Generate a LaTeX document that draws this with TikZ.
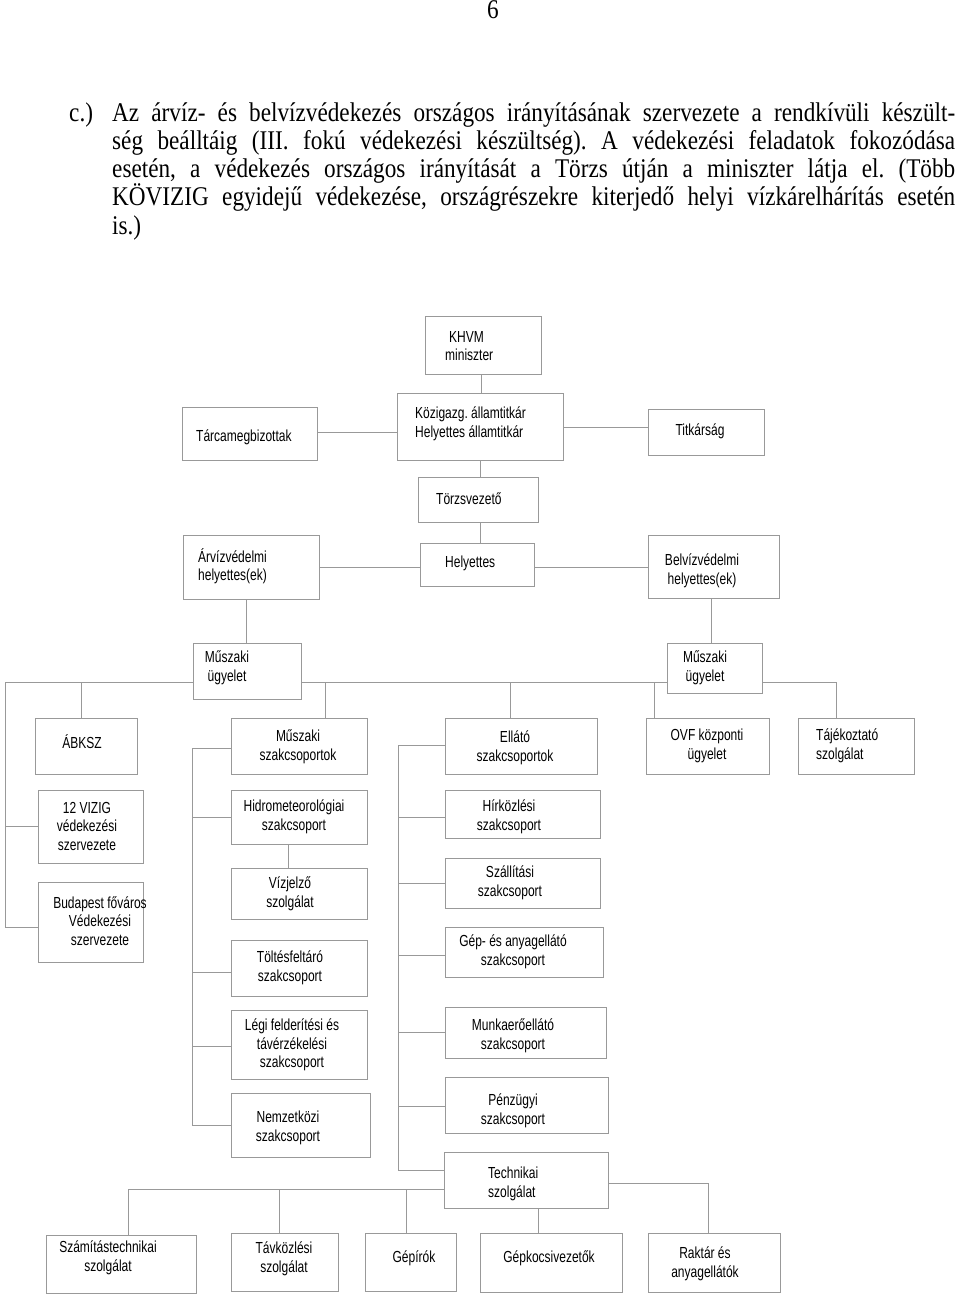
\documentclass[tikz,border=0pt]{standalone}
\usepackage{fontspec}
\setmainfont{Liberation Serif}
\newfontfamily\chartfont[FakeStretch=0.75]{Liberation Sans}
\newfontfamily\parfont[FakeStretch=0.86]{Liberation Serif}
\frenchspacing
\newcommand\bx[5]{\node[box, minimum width={(#4)-(#2)}, minimum height={(#5)-(#3)}] (#1) at ({((#2)+(#4))/2},{((#3)+(#5))/2}) {};}
\begin{document}
\begin{tikzpicture}[x=1pt,y=-1pt,
  box/.style={draw=black!40, line width=1pt, inner sep=0pt},
  txt/.style={font=\chartfont\fontsize{16}{18.5}\selectfont, text=black, inner sep=0pt},
  ln/.style={draw=black!40, line width=1pt},
  partxt/.style={font=\parfont\fontsize{27}{28}\selectfont, inner sep=0pt, anchor=base west}]
\useasboundingbox (0,0) rectangle (960,1297);
% page number and paragraph
\node[partxt, anchor=base] (pnum) at (493,19) {6};
\node[partxt] (cc) at (69,122) {c.)};
\node[partxt] (l1) at (112,122) {\makebox[843pt][s]{Az árvíz- és belvízvédekezés országos irányításának szervezete a rendkívüli készült-}};
\node[partxt] (l2) at (112,150) {\makebox[843pt][s]{ség beálltáig (III. fokú védekezési készültség). A védekezési feladatok fokozódása}};
\node[partxt] (l3) at (112,178) {\makebox[843pt][s]{esetén, a védekezés országos irányítását a Törzs útján a miniszter látja el. (Több}};
\node[partxt] (l4) at (112,206) {\makebox[843pt][s]{KÖVIZIG egyidejű védekezése, országrészekre kiterjedő helyi vízkárelhárítás esetén}};
\node[partxt] (l5) at (112,234) {is.)};
% boxes
\bx{khvm}{425}{316}{541}{374}
\bx{tarca}{182}{407}{317}{460}
\bx{koz}{397}{393}{563}{460}
\bx{titk}{648}{409}{764}{455}
\bx{torzs}{418}{477}{538}{522}
\bx{arviz}{183}{535}{319}{599}
\bx{hely}{420}{543}{534}{586}
\bx{belviz}{648}{535}{779}{598}
\bx{muszL}{193}{643}{301}{699}
\bx{muszR}{667}{643}{762}{693}
\bx{abksz}{35}{718}{137}{774}
\bx{muszcs}{231}{718}{367}{774}
\bx{ellato}{445}{718}{597}{774}
\bx{ovf}{646}{718}{769}{774}
\bx{tajek}{798}{718}{914}{774}
\bx{vizig}{38}{790}{143}{863}
\bx{bp}{38}{882}{143}{962}
\bx{hidro}{231}{790}{367}{844}
\bx{vizjel}{231}{868}{367}{919}
\bx{toltes}{231}{940}{367}{996}
\bx{legi}{231}{1010}{367}{1079}
\bx{nemz}{231}{1093}{370}{1157}
\bx{hirk}{445}{790}{600}{838}
\bx{szall}{445}{858}{600}{908}
\bx{gep}{445}{927}{603}{977}
\bx{munka}{445}{1007}{606}{1058}
\bx{penz}{445}{1077}{608}{1133}
\bx{tech}{444}{1152}{608}{1208}
\bx{szamit}{46}{1235}{196}{1293}
\bx{tavk}{231}{1233}{338}{1291}
\bx{gepir}{365}{1233}{456}{1291}
\bx{gepk}{480}{1233}{622}{1292}
\bx{raktar}{648}{1233}{780}{1292}
% texts
\node[txt, align=left, anchor=west] (khvm-t) at (445,346) {\hspace*{4pt}KHVM\\miniszter};
\node[txt, anchor=west] (tarca-t) at (196,437) {Tárcamegbizottak};
\node[txt, align=left, anchor=west] (koz-t) at (415,424) {Közigazg. államtitkár\\Helyettes államtitkár};
\node[txt] (titk-t) at (700,431) {Titkárság};
\node[txt, anchor=west] (torzs-t) at (436,499) {Törzsvezető};
\node[txt, align=left, anchor=west] (arviz-t) at (198,566) {Árvízvédelmi\\helyettes(ek)};
\node[txt, anchor=west] (hely-t) at (445,563) {Helyettes};
\node[txt, align=center] (belviz-t) at (702,571) {Belvízvédelmi\\helyettes(ek)};
\node[txt, align=center] (muszL-t) at (227,668) {Műszaki\\ügyelet};
\node[txt, align=center] (muszR-t) at (705,668) {Műszaki\\ügyelet};
\node[txt] (abksz-t) at (82,742) {ÁBKSZ};
\node[txt, align=center] (muszcs-t) at (298,747) {Műszaki\\szakcsoportok};
\node[txt, align=center] (ellato-t) at (515,748) {Ellátó\\szakcsoportok};
\node[txt, align=center] (ovf-t) at (707,746) {OVF központi\\ügyelet};
\node[txt, align=left, anchor=west] (tajek-t) at (816,746) {Tájékoztató\\szolgálat};
\node[txt, align=center] (vizig-t) at (87,826) {12 VIZIG\\védekezési\\szervezete};
\node[txt, align=center] (bp-t) at (100,921) {Budapest főváros\\Védekezési\\szervezete};
\node[txt, align=center] (hidro-t) at (294,817) {Hidrometeorológiai\\szakcsoport};
\node[txt, align=center] (vizjel-t) at (290,894) {Vízjelző\\szolgálat};
\node[txt, align=center] (toltes-t) at (290,968) {Töltésfeltáró\\szakcsoport};
\node[txt, align=center] (legi-t) at (292,1045) {Légi felderítési és\\távérzékelési\\szakcsoport};
\node[txt, align=center] (nemz-t) at (288,1128) {Nemzetközi\\szakcsoport};
\node[txt, align=center] (hirk-t) at (509,817) {Hírközlési\\szakcsoport};
\node[txt, align=center] (szall-t) at (510,883) {Szállítási\\szakcsoport};
\node[txt, align=center] (gep-t) at (513,952) {Gép- és anyagellátó\\szakcsoport};
\node[txt, align=center] (munka-t) at (513,1036) {Munkaerőellátó\\szakcsoport};
\node[txt, align=center] (penz-t) at (513,1111) {Pénzügyi\\szakcsoport};
\node[txt, align=left, anchor=west] (tech-t) at (488,1184) {Technikai\\szolgálat};
\node[txt, align=center] (szamit-t) at (108,1258) {Számítástechnikai\\szolgálat};
\node[txt, align=center] (tavk-t) at (284,1259) {Távközlési\\szolgálat};
\node[txt] (gepir-t) at (414,1258) {Gépírók};
\node[txt] (gepk-t) at (549,1258) {Gépkocsivezetők};
\node[txt, align=center] (raktar-t) at (705,1264) {Raktár és\\anyagellátók};
% rail coordinates
\coordinate (xA) at (481,0);
\coordinate (xB) at (480,0);
\coordinate (yT) at (0,432);
\coordinate (yT2) at (0,427);
\coordinate (yH) at (0,567);
\coordinate (xL) at (246,0);
\coordinate (xR) at (711,0);
\coordinate (main) at (0,682);
\coordinate (rl) at (5,682);
\coordinate (rlb) at (5,927);
\coordinate (rtaj) at (836,682);
\coordinate (xab) at (81,0);
\coordinate (xmc) at (325,0);
\coordinate (xel) at (510,0);
\coordinate (xov) at (654,0);
\coordinate (mrt) at (192,748);
\coordinate (mrb) at (192,1125);
\coordinate (xhv) at (288,0);
\coordinate (ert) at (398,745);
\coordinate (erb) at (398,1170);
\coordinate (bl) at (128,1189);
\coordinate (xtav) at (279,0);
\coordinate (xgpi) at (406,0);
\coordinate (xgk) at (538,0);
\coordinate (br) at (708,1183);
% connectors
\draw[ln] (khvm.south -| xA) -- (koz.north -| xA);
\draw[ln] (tarca.east |- yT) -- (koz.west |- yT);
\draw[ln] (koz.east |- yT2) -- (titk.west |- yT2);
\draw[ln] (koz.south -| xB) -- (torzs.north -| xB);
\draw[ln] (torzs.south -| xB) -- (hely.north -| xB);
\draw[ln] (arviz.east |- yH) -- (hely.west |- yH);
\draw[ln] (hely.east |- yH) -- (belviz.west |- yH);
\draw[ln] (arviz.south -| xL) -- (muszL.north -| xL);
\draw[ln] (belviz.south -| xR) -- (muszR.north -| xR);
\draw[ln] (muszL.west |- main) -- (rl) -- (rlb) -- (bp.west |- rlb);
\draw[ln] (rl |- vizig.west) -- (vizig.west);
\draw[ln] (muszL.east |- main) -- (muszR.west |- main);
\draw[ln] (muszR.east |- main) -- (rtaj) -- (tajek.north -| rtaj);
\draw[ln] (main -| xab) -- (abksz.north -| xab);
\draw[ln] (main -| xmc) -- (muszcs.north -| xmc);
\draw[ln] (main -| xel) -- (ellato.north -| xel);
\draw[ln] (main -| xov) -- (ovf.north -| xov);
\draw[ln] (muszcs.west |- mrt) -- (mrt) -- (mrb) -- (nemz.west |- mrb);
\draw[ln] (mrt |- hidro.west) -- (hidro.west);
\draw[ln] (mrt |- 0,972) -- (toltes.west |- 0,972);
\draw[ln] (mrt |- 0,1046) -- (legi.west |- 0,1046);
\draw[ln] (hidro.south -| xhv) -- (vizjel.north -| xhv);
\draw[ln] (ellato.west |- ert) -- (ert) -- (erb) -- (tech.west |- erb);
\draw[ln] (ert |- 0,817) -- (hirk.west |- 0,817);
\draw[ln] (ert |- 0,883) -- (szall.west |- 0,883);
\draw[ln] (ert |- 0,955) -- (gep.west |- 0,955);
\draw[ln] (ert |- 0,1032) -- (munka.west |- 0,1032);
\draw[ln] (ert |- 0,1106) -- (penz.west |- 0,1106);
\draw[ln] (tech.west |- bl) -- (bl) -- (szamit.north -| bl);
\draw[ln] (bl -| xtav) -- (tavk.north -| xtav);
\draw[ln] (bl -| xgpi) -- (gepir.north -| xgpi);
\draw[ln] (tech.south -| xgk) -- (gepk.north -| xgk);
\draw[ln] (tech.east |- br) -- (br) -- (raktar.north -| br);
\end{tikzpicture}
\end{document}
